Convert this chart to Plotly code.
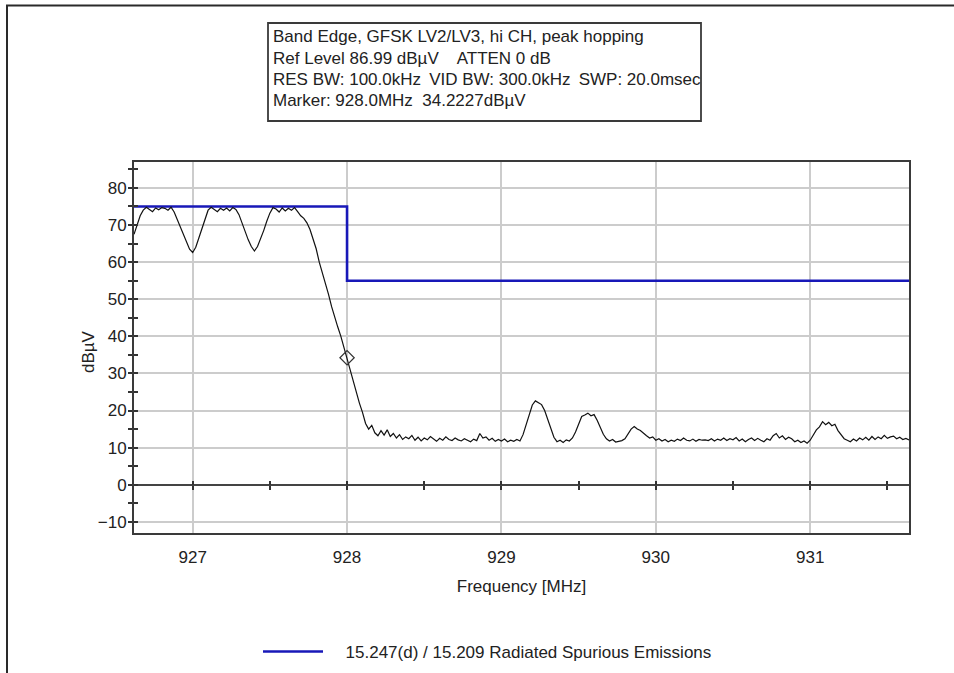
import numpy as np
import plotly.graph_objects as go

# ---- data ----
sweep_start_mhz = 926.62
sweep_stop_mhz = 931.64
trace_dbuv = [
    67.5, 70.0, 72.5, 74.0, 74.8, 74.2, 73.6, 74.6, 74.1, 74.7,
    74.5, 74.0, 74.8, 73.5, 71.5, 69.5, 67.5, 65.5, 63.5, 62.6,
    64.0, 66.5, 69.0, 71.5, 74.0, 74.8, 74.3, 73.6, 74.5, 74.0,
    74.6, 73.8, 74.7, 74.2, 72.8, 70.5, 68.0, 66.0, 64.2, 63.0,
    64.2, 66.2, 68.5, 71.0, 73.2, 74.7, 74.3, 73.5, 74.6, 73.8,
    74.5, 74.0, 74.7, 73.6, 72.5, 71.8, 70.6, 68.8, 66.5, 63.6,
    60.0, 57.2, 54.5, 51.3, 48.0, 45.0, 42.5, 40.0, 37.0, 34.2,
    31.0, 27.5, 24.5, 22.0, 19.5, 16.5, 15.0, 16.0, 14.0, 13.2,
    14.6, 13.4, 14.8, 13.0, 13.8, 12.6, 13.5, 12.2, 12.9, 12.4,
    13.3, 12.0, 12.8, 11.8, 12.6, 12.1, 13.0, 12.3, 11.7, 12.5,
    12.0, 12.9, 12.2, 11.9, 12.6, 12.1, 11.8, 12.4, 12.0, 11.6,
    12.3, 11.9, 13.8, 12.6, 12.9, 12.0, 12.5, 11.7, 12.2, 11.8,
    12.3, 11.6, 12.0, 11.7, 12.2, 11.8, 13.5, 16.0, 19.0, 21.5,
    22.6, 22.2, 21.6, 20.0, 17.5, 15.0, 12.8, 11.6, 12.0, 11.4,
    12.1, 11.8, 12.6, 14.2, 16.5, 18.4, 18.8, 19.3, 18.6, 18.9,
    17.4, 15.5, 13.6, 12.4, 11.8, 12.2, 11.5, 11.7, 11.9, 12.4,
    13.6, 15.0, 15.7, 15.0, 14.6, 13.8, 13.2, 12.6, 12.9, 12.0,
    12.4, 11.8, 12.2, 11.6, 12.0, 11.7, 12.3, 11.9, 12.6, 12.0,
    11.8, 12.3, 11.7, 12.2, 12.0, 12.1, 11.9, 12.4, 11.8, 12.3,
    12.0, 12.6, 11.9, 12.4, 12.1, 12.7, 11.8, 12.3, 11.6, 12.2,
    12.6, 11.9, 12.5, 12.0, 11.6, 12.4, 12.0, 13.2, 13.8, 12.6,
    13.2, 12.2, 12.8, 12.4, 11.6, 12.0, 11.4, 11.8, 11.2, 12.0,
    13.5, 14.8, 15.6, 17.0, 16.2, 16.8, 15.9, 16.3, 14.6, 13.6,
    12.4, 12.0, 11.6, 12.3, 11.8, 12.6, 12.1, 12.8, 12.0, 13.0,
    12.2, 12.9, 12.4, 13.3, 12.5, 12.9, 13.1, 12.4, 12.8, 12.2,
    12.5, 12.1,
]
sweep_mhz = np.round(np.linspace(sweep_start_mhz, sweep_stop_mhz, len(trace_dbuv)), 3)

limit_freqs = [926.62, 928.0, 931.64]
limit_levels = [75, 55, 55]
limit_name = "15.247(d) / 15.209 Radiated Spurious Emissions"

marker_freq = [928.0]
marker_level = [34.2227]

info_lines = [
    "Band Edge, GFSK LV2/LV3, hi CH, peak hopping",
    "Ref Level 86.99 dBµV    ATTEN 0 dB",
    "RES BW: 100.0kHz \u2009VID BW: 300.0kHz \u2009SWP: 20.0msec",
    "Marker: 928.0MHz  34.2227dBµV",
]

x_title = "Frequency [MHz]"
y_title = "dBµV"

x_range = [926.62, 931.64]
y_range = [-13.01, 86.99]

# ---- layout geometry (pixels) ----
W, H = 954, 673
L, R, T, B = 134, 45, 162, 140
PW, PH = W - L - R, H - T - B


def px(xp):
    return (xp - L) / PW


def py(yp):
    return (H - B - yp) / PH


FONT = "Liberation Sans, Arial, sans-serif"
TXT = "#222222"
FRAME = "#3a3a3a"
GRID = "#cccccc"

fig = go.Figure()

fig.add_trace(go.Scatter(
    x=limit_freqs, y=limit_levels, mode="lines", line_shape="hv",
    line=dict(color="#1818b8", width=2.6),
    name="\u00a0\u00a0\u00a0\u2009" + limit_name, showlegend=True,
    hoverinfo="skip"))

fig.add_trace(go.Scatter(
    x=sweep_mhz, y=trace_dbuv, mode="lines",
    line=dict(color="#111111", width=1.2), showlegend=False))

fig.add_trace(go.Scatter(
    x=marker_freq, y=marker_level, mode="markers",
    marker=dict(symbol="diamond-open", size=11, color="#333333",
                line=dict(width=1.2, color="#333333")),
    showlegend=False))

# helper traces so overlay axes (crossing ticks) are drawn
fig.add_trace(go.Scatter(x=[], y=[], xaxis="x2", yaxis="y", showlegend=False))
fig.add_trace(go.Scatter(x=[], y=[], xaxis="x3", yaxis="y", showlegend=False))
fig.add_trace(go.Scatter(x=[], y=[], xaxis="x", yaxis="y2", showlegend=False))

zero_pos = (0 - y_range[0]) / (y_range[1] - y_range[0])

tick_axis_common = dict(
    overlaying="x", anchor="free", position=zero_pos, range=x_range,
    tickmode="linear", tick0=927, dtick=0.5, ticklen=4, tickwidth=1.5,
    tickcolor="#333333", showticklabels=False, showgrid=False,
    showline=False, zeroline=False)

fig.update_layout(
    width=W, height=H,
    margin=dict(l=L, r=R, t=T, b=B, pad=0, autoexpand=False),
    paper_bgcolor="white", plot_bgcolor="white",
    font=dict(family=FONT, size=17, color=TXT),
    xaxis=dict(
        range=x_range, tickmode="linear", tick0=927, dtick=1,
        showgrid=True, gridcolor=GRID, gridwidth=1.5,
        showline=True, linecolor=FRAME, linewidth=2, mirror=True,
        ticks="", ticklabelstandoff=8, zeroline=False,
        title=dict(text=x_title, standoff=14,
                   font=dict(size=17, color=TXT)),
        tickfont=dict(size=17, color=TXT)),
    xaxis2=dict(ticks="outside", **tick_axis_common),
    xaxis3=dict(ticks="inside", **tick_axis_common),
    yaxis=dict(
        range=y_range, tickmode="linear", tick0=0, dtick=10,
        showgrid=True, gridcolor=GRID, gridwidth=1.5,
        showline=True, linecolor=FRAME, linewidth=2, mirror=True,
        ticks="outside", ticklen=4, tickwidth=1.5, tickcolor="#333333",
        ticklabelstandoff=-2,
        minor=dict(ticks="outside", dtick=5, tick0=0, ticklen=4,
                   tickwidth=1.5, tickcolor="#333333", showgrid=False),
        zeroline=True, zerolinecolor="#444444", zerolinewidth=2,
        tickfont=dict(size=17, color=TXT)),
    yaxis2=dict(
        overlaying="y", anchor="x", side="left", range=y_range,
        tickmode="linear", tick0=0, dtick=5, ticks="inside", ticklen=4,
        tickwidth=1.5, tickcolor="#333333", showticklabels=False,
        showgrid=False, showline=False, zeroline=False),
    legend=dict(
        orientation="h", x=px(258), xanchor="left", y=py(652),
        yanchor="middle", font=dict(size=17, color=TXT),
        bgcolor="rgba(0,0,0,0)", itemwidth=60),
    showlegend=True,
)

# y axis title
fig.add_annotation(xref="paper", yref="paper", x=px(88), y=py(352),
                   xanchor="center", yanchor="middle", text=y_title,
                   textangle=-90, showarrow=False,
                   font=dict(size=17, color=TXT))

# outer frame of the window
fig.add_shape(type="rect", xref="paper", yref="paper",
              x0=px(7), x1=px(990), y0=py(720), y1=py(5.5),
              line=dict(color="#2a2a2a", width=2), fillcolor="rgba(0,0,0,0)",
              layer="below")

# information box
fig.add_shape(type="rect", xref="paper", yref="paper",
              x0=px(268), x1=px(701), y0=py(121), y1=py(23),
              line=dict(color="#3a3a3a", width=1.8), fillcolor="white")
line_centers = [36.5, 58, 79.5, 100.5]
for text, yc in zip(info_lines, line_centers):
    fig.add_annotation(xref="paper", yref="paper", x=px(271), y=py(yc),
                       xanchor="left", yanchor="middle", text=text,
                       showarrow=False, font=dict(size=17, color=TXT))

fig.write_html("out.html",
               config={"displayModeBar": False},
               post_script="document.body.style.margin='0px';")
